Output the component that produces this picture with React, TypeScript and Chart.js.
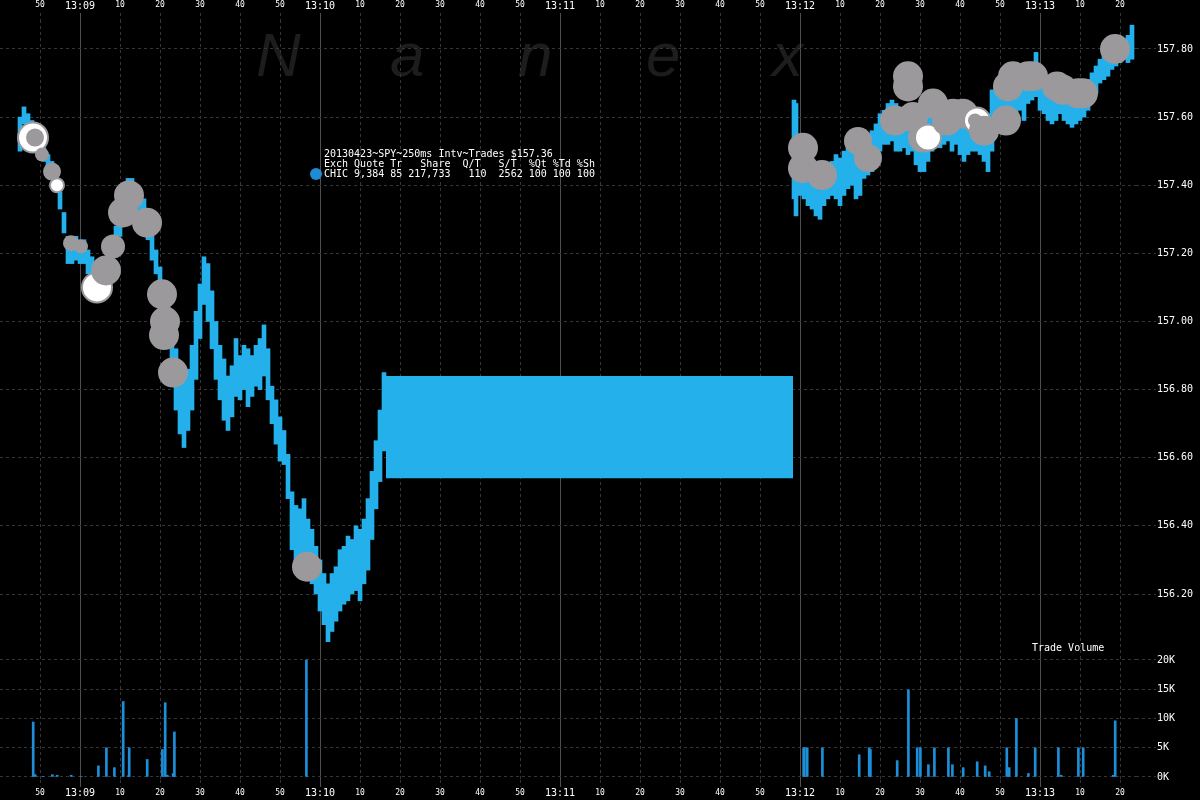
import React, { useEffect, useRef } from 'react';
import { Chart, registerables } from 'chart.js';

Chart.register(...registerables);

// ---- time axis (seconds after 13:08:00) ----
const timeTickValues = [50, 60, 70, 80, 90, 100, 110, 120, 130, 140, 150, 160, 170, 180, 190, 200, 210, 220, 230, 240, 250, 260, 270, 280, 290, 300, 310, 320];
const timeTickLabels = ['50', '13:09', '10', '20', '30', '40', '50', '13:10', '10', '20', '30', '40', '50', '13:11', '10', '20', '30', '40', '50', '13:12', '10', '20', '30', '40', '50', '13:13', '10', '20'];

// ---- price axis ----
const priceTickValues = [156.2, 156.4, 156.6, 156.8, 157.0, 157.2, 157.4, 157.6, 157.8];
const priceTickLabels = ['156.20', '156.40', '156.60', '156.80', '157.00', '157.20', '157.40', '157.60', '157.80'];

// ---- volume axis ----
const volumeTickValues = [0, 5000, 10000, 15000, 20000];
const volumeTickLabels = ['0K', '5K', '10K', '15K', '20K'];

// ---- 250ms interval price ranges (seconds after 13:08:00) ----
const priceTimes = [
  45, 46, 47, 48, 49, 50, 51, 52, 53, 54, 55, 56, 57, 58, 59, 60, 61, 62, 63, 64, 65, 66, 67, 68, 69, 70,
  71, 72, 73, 74, 75, 76, 77, 78, 79, 80, 81, 82, 83, 84, 85, 86, 87, 88, 89, 90, 91, 92, 93, 94, 95, 96,
  97, 98, 99, 100, 101, 102, 103, 104, 105, 106, 107, 108, 109, 110, 111, 112, 113, 114, 115, 116, 117,
  118, 119, 120, 121, 122, 123, 124, 125, 126, 127, 128, 129, 130, 131, 132, 133, 134, 135, 136,
  238.5, 239, 240, 241, 242, 243, 244, 245, 246, 247, 248, 249, 250, 251, 252, 253, 254, 255, 256, 257,
  258, 259, 260, 261, 262, 263, 264, 265, 266, 267, 268, 269, 270, 271, 272, 273, 274, 275, 276, 277,
  278, 279, 280, 281, 282, 283, 284, 285, 286, 287, 288, 289, 290, 291, 292, 293, 294, 295, 296, 297,
  298, 299, 300, 301, 302, 303, 304, 305, 306, 307, 308, 309, 310, 311, 312, 313, 314, 315, 316, 317,
  318, 319, 320, 321, 322, 323,
];
const priceHighs = [
  157.60, 157.63, 157.61, 157.59, 157.56, 157.53, 157.51, 157.49, 157.47, 157.43, 157.38, 157.32, 157.25,
  157.25, 157.25, 157.24, 157.24, 157.21, 157.19, 157.15, 157.16, 157.19, 157.21, 157.24, 157.28, 157.34,
  157.39, 157.42, 157.42, 157.40, 157.37, 157.36, 157.31, 157.25, 157.21, 157.16, 157.11, 157.06, 156.97,
  156.92, 156.86, 156.83, 156.86, 156.93, 157.03, 157.11, 157.19, 157.17, 157.09, 157.00, 156.93, 156.89,
  156.84, 156.87, 156.95, 156.90, 156.93, 156.92, 156.90, 156.93, 156.95, 156.99, 156.92, 156.81, 156.77,
  156.72, 156.68, 156.61, 156.50, 156.46, 156.45, 156.48, 156.42, 156.39, 156.34, 156.30, 156.26, 156.23,
  156.26, 156.28, 156.33, 156.34, 156.37, 156.36, 156.40, 156.39, 156.42, 156.48, 156.56, 156.65, 156.74,
  156.85,
  157.65, 157.64, 157.53, 157.50, 157.49, 157.46, 157.44, 157.43, 157.44, 157.46, 157.47, 157.49, 157.48,
  157.50, 157.52, 157.50, 157.52, 157.53, 157.53, 157.55, 157.56, 157.58, 157.61, 157.62, 157.64, 157.65,
  157.64, 157.62, 157.63, 157.62, 157.61, 157.61, 157.62, 157.61, 157.60, 157.61, 157.61, 157.60, 157.62,
  157.63, 157.62, 157.63, 157.61, 157.61, 157.60, 157.61, 157.61, 157.60, 157.59, 157.61, 157.68, 157.69,
  157.70, 157.70, 157.71, 157.72, 157.72, 157.71, 157.72, 157.74, 157.75, 157.79, 157.74, 157.72, 157.71,
  157.70, 157.69, 157.70, 157.68, 157.67, 157.65, 157.67, 157.68, 157.70, 157.71, 157.73, 157.75, 157.77,
  157.78, 157.80, 157.81, 157.82, 157.83, 157.83, 157.84, 157.87,
];
const priceLows = [
  157.50, 157.58, 157.56, 157.53, 157.50, 157.49, 157.47, 157.44, 157.42, 157.39, 157.33, 157.26, 157.17,
  157.17, 157.18, 157.17, 157.17, 157.14, 157.12, 157.09, 157.11, 157.12, 157.15, 157.17, 157.21, 157.25,
  157.30, 157.34, 157.33, 157.31, 157.28, 157.27, 157.24, 157.18, 157.14, 157.09, 157.00, 156.93, 156.84,
  156.74, 156.67, 156.63, 156.68, 156.74, 156.83, 156.95, 157.05, 157.00, 156.92, 156.83, 156.77, 156.71,
  156.68, 156.72, 156.78, 156.77, 156.80, 156.75, 156.78, 156.81, 156.80, 156.84, 156.77, 156.70, 156.64,
  156.59, 156.58, 156.48, 156.33, 156.28, 156.30, 156.31, 156.26, 156.23, 156.20, 156.15, 156.11, 156.06,
  156.09, 156.12, 156.15, 156.17, 156.18, 156.20, 156.21, 156.18, 156.23, 156.27, 156.36, 156.45, 156.53,
  156.62,
  157.36, 157.31, 157.37, 157.36, 157.34, 157.33, 157.31, 157.30, 157.34, 157.36, 157.37, 157.36, 157.34,
  157.37, 157.39, 157.40, 157.36, 157.37, 157.42, 157.43, 157.44, 157.47, 157.50, 157.52, 157.52, 157.53,
  157.50, 157.50, 157.51, 157.49, 157.50, 157.46, 157.44, 157.44, 157.47, 157.50, 157.52, 157.51, 157.52,
  157.53, 157.50, 157.52, 157.49, 157.47, 157.49, 157.50, 157.50, 157.49, 157.47, 157.44, 157.50, 157.56,
  157.58, 157.59, 157.60, 157.59, 157.61, 157.62, 157.59, 157.64, 157.65, 157.66, 157.62, 157.61, 157.59,
  157.58, 157.59, 157.61, 157.59, 157.58, 157.57, 157.58, 157.59, 157.60, 157.62, 157.65, 157.67, 157.70,
  157.71, 157.72, 157.74, 157.75, 157.76, 157.77, 157.76, 157.77,
];

// ---- quote band while no trades printed ----
const gapTimes = [136.5, 238.25];
const gapHigh = 156.84;
const gapLow = 156.54;

// ---- trades (bubbles) ----
const tradeTimes = [
  48.25, 48.75, 50.5, 53, 54.25, 57.75, 60.25, 64.25, 66.5, 68.25, 70.75, 72.25, 76.75, 80.5, 81, 81.25, 83.25, 116.75,
  240.75, 240.75, 245.5, 254.5, 257, 263.75, 267, 267, 268.25, 270.75, 272, 273.25, 276.75, 278.25, 280.75,
  284.25, 283.75, 286, 291.5, 292, 293.25, 297, 298.25, 304.25, 305.75, 309.5, 310.75, 318.75,
];
const tradePrices = [
  157.54, 157.54, 157.49, 157.44, 157.40, 157.23, 157.22, 157.10, 157.15, 157.22, 157.32, 157.37, 157.29, 157.08, 156.96, 157.00, 156.85, 156.28,
  157.51, 157.45, 157.43, 157.53, 157.48, 157.59, 157.72, 157.69, 157.60, 157.54, 157.54, 157.64, 157.59, 157.61, 157.61,
  157.59, 157.59, 157.56, 157.59, 157.69, 157.72, 157.72, 157.72, 157.69, 157.68, 157.67, 157.67, 157.80,
];
const tradeRadius = [
  15, 9, 7, 9, 7, 8, 7, 15, 15, 12, 15, 15, 15, 15, 15, 15, 15, 15,
  15, 15, 15, 14, 14, 15, 15, 15, 15, 15, 13, 15, 15, 15, 15,
  13, 7, 15, 15, 15, 15, 15, 15, 15, 15, 15, 15, 15,
];
const tradeHollow = [
  true, false, false, false, true, false, false, true, false, false, false, false, false, false, false, false, false, false,
  false, false, false, false, false, false, false, false, false, false, true, false, false, false, false,
  true, false, false, false, false, false, false, false, false, false, false, false, false,
];

// ---- trade volume ----
const volumeTimes = [
  48.3, 48.8, 50.7, 53.1, 54.3, 57.8, 60.3, 64.6, 66.6, 68.6, 70.8, 72.2, 72.3, 76.8, 80.6, 81.3, 81.8, 83.3, 83.6, 116.6,
  240.9, 241.1, 241.8, 245.6, 254.8, 257.3, 257.6, 264.3, 267.1, 269.3, 270.1, 272.1, 273.6, 277.1, 278.1, 280.8,
  284.3, 286.3, 287.3, 291.7, 292.3, 294.1, 297.1, 298.8, 304.6, 305.3, 309.6, 310.8, 318.3, 318.8,
];
const volumeValues = [
  9400, 400, 100, 400, 300, 300, 100, 1900, 5000, 1600, 12900, 300, 5000, 3000, 4700, 12700, 300, 600, 7700, 20000,
  5000, 5000, 5000, 5000, 3800, 5000, 4700, 2800, 14900, 5000, 5000, 2100, 5000, 5000, 2100, 1600,
  2600, 1900, 900, 5000, 1600, 10000, 600, 5000, 5000, 300, 5000, 5000, 300, 9600,
];

const legendLines = [
  '20130423~SPY~250ms Intv~Trades $157.36',
  'Exch Quote Tr   Share  Q/T   S/T  %Qt %Td %Sh',
  'CHIC 9,384 85 217,733   110  2562 100 100 100',
];

const MONO = '"DejaVu Sans Mono", monospace';
const GRID = '#363636';
const MINUTE_GRID = '#505050';
const BLUE = '#24b0ea';
const VOL_BLUE = '#1c8fd8';
const GRAY = '#9b999c';

const isMinute = (v: any) => typeof v === 'number' && v % 60 === 0;
const gridColorFor = (ctx: any) => (ctx.tick && isMinute(ctx.tick.value) ? MINUTE_GRID : GRID);
const dashFor = (ctx: any) => (ctx.tick && isMinute(ctx.tick.value) ? [] : [3, 3]);
const timeLabel = (v: any) => {
  const i = timeTickValues.indexOf(Number(v));
  return i >= 0 ? timeTickLabels[i] : '';
};

export default function App() {
  const canvasRef = useRef<HTMLCanvasElement | null>(null);

  useEffect(() => {
    const canvas = canvasRef.current;
    if (!canvas) return;

    const chart = new Chart(canvas, {
      type: 'bar',
      data: {
        datasets: [
          {
            type: 'bubble',
            data: tradeTimes.map((t, i) => ({ x: t, y: tradePrices[i], r: tradeRadius[i] })),
            xAxisID: 'x',
            yAxisID: 'yPrice',
            backgroundColor: tradeHollow.map((h) => (h ? '#ffffff' : GRAY)),
            borderColor: GRAY,
            borderWidth: tradeHollow.map((h) => (h ? 2 : 0)),
            hoverRadius: 0,
          } as any,
          {
            type: 'bar',
            data: priceTimes.map((t, i) => ({ x: t, y: [priceLows[i], priceHighs[i]] })),
            xAxisID: 'x',
            yAxisID: 'yPrice',
            backgroundColor: BLUE,
            barThickness: 4,
            grouped: false,
            borderWidth: 0,
          } as any,
          {
            type: 'line',
            data: gapTimes.map((t) => ({ x: t, y: gapHigh })),
            xAxisID: 'x',
            yAxisID: 'yPrice',
            borderColor: 'transparent',
            borderWidth: 0,
            pointRadius: 0,
            backgroundColor: BLUE,
            fill: { value: gapLow },
          } as any,
          {
            type: 'bar',
            data: volumeTimes.map((t, i) => ({ x: t, y: volumeValues[i] })),
            xAxisID: 'x',
            yAxisID: 'yVol',
            backgroundColor: VOL_BLUE,
            barThickness: 2,
            grouped: false,
            borderWidth: 0,
          } as any,
        ],
      },
      options: {
        responsive: false,
        maintainAspectRatio: false,
        animation: false,
        devicePixelRatio: 1,
        events: [],
        layout: { padding: 0, autoPadding: false },
        plugins: { legend: { display: false }, tooltip: { enabled: false } },
        scales: {
          x: {
            type: 'linear',
            position: 'top',
            min: 40,
            max: 324,
            offset: false,
            afterBuildTicks: (s: any) => {
              s.ticks = timeTickValues.map((v) => ({ value: v }));
            },
            afterFit: (s: any) => {
              s.height = 20;
            },
            ticks: {
              autoSkip: false,
              maxRotation: 0,
              padding: 1,
              color: '#ffffff',
              font: (ctx: any) =>
                ctx.tick && isMinute(ctx.tick.value)
                  ? { family: MONO, size: 10, lineHeight: '12px' }
                  : { family: MONO, size: 8, lineHeight: '14px' },
              callback: (v: any) => timeLabel(v),
            },
            grid: {
              offset: false,
              drawOnChartArea: true,
              tickLength: 7,
              lineWidth: 1,
              color: gridColorFor,
              tickColor: gridColorFor,
              tickBorderDash: dashFor,
            },
            border: { display: false, dash: dashFor },
          } as any,
          x2: {
            type: 'linear',
            position: 'bottom',
            min: 40,
            max: 324,
            offset: false,
            afterBuildTicks: (s: any) => {
              s.ticks = timeTickValues.map((v) => ({ value: v }));
            },
            afterFit: (s: any) => {
              s.height = 20;
            },
            ticks: {
              autoSkip: false,
              maxRotation: 0,
              padding: 1,
              color: '#ffffff',
              font: (ctx: any) =>
                ctx.tick && isMinute(ctx.tick.value)
                  ? { family: MONO, size: 10, lineHeight: '10px' }
                  : { family: MONO, size: 8, lineHeight: '10px' },
              callback: (v: any) => timeLabel(v),
            },
            grid: {
              offset: false,
              drawOnChartArea: false,
              tickLength: 7,
              color: gridColorFor,
              tickColor: gridColorFor,
              tickBorderDash: dashFor,
            },
            border: { display: false, dash: dashFor },
          } as any,
          yPrice: {
            type: 'linear',
            position: 'right',
            stack: 'right',
            stackWeight: 630,
            min: 156.0356,
            max: 157.8851,
            afterBuildTicks: (s: any) => {
              s.ticks = priceTickValues.map((v) => ({ value: v }));
            },
            afterFit: (s: any) => {
              s.width = 64;
            },
            ticks: {
              color: '#ffffff',
              padding: 1,
              font: { family: MONO, size: 10 },
              callback: (v: any) => {
                const i = priceTickValues.indexOf(Number(v));
                return i >= 0 ? priceTickLabels[i] : '';
              },
            },
            grid: { color: GRID, tickColor: GRID, tickLength: 20, tickBorderDash: [3, 3] },
            border: { display: false, dash: [3, 3] },
          } as any,
          yVol: {
            type: 'linear',
            position: 'right',
            stack: 'right',
            stackWeight: 130,
            min: -513,
            max: 21709,
            afterBuildTicks: (s: any) => {
              s.ticks = volumeTickValues.map((v) => ({ value: v }));
            },
            afterFit: (s: any) => {
              s.width = 64;
            },
            ticks: {
              color: '#ffffff',
              padding: 1,
              font: { family: MONO, size: 10 },
              callback: (v: any) => {
                const i = volumeTickValues.indexOf(Number(v));
                return i >= 0 ? volumeTickLabels[i] : '';
              },
            },
            grid: { color: GRID, tickColor: GRID, tickLength: 20, tickBorderDash: [3, 3] },
            border: { display: false, dash: [3, 3] },
          } as any,
        },
      } as any,
    });

    return () => chart.destroy();
  }, []);

  const wmStyle = (left: number): React.CSSProperties => ({
    position: 'absolute',
    left,
    top: 25,
    font: 'italic 62px "Liberation Sans", sans-serif',
    lineHeight: '60px',
    color: '#1d1d1d',
  });

  return (
    <div
      style={{
        position: 'fixed',
        left: 0,
        top: 0,
        width: 1200,
        height: 800,
        background: '#000000',
        overflow: 'hidden',
      }}
    >
      <span style={wmStyle(256)}>N</span>
      <span style={wmStyle(390)}>a</span>
      <span style={wmStyle(518)}>n</span>
      <span style={wmStyle(646)}>e</span>
      <span style={wmStyle(772)}>x</span>
      <canvas
        ref={canvasRef}
        width={1200}
        height={800}
        style={{ position: 'absolute', left: 0, top: 0, width: 1200, height: 800 }}
      />
      <div
        style={{
          position: 'absolute',
          left: 310,
          top: 168,
          width: 12,
          height: 12,
          borderRadius: '50%',
          background: '#1e8cd2',
        }}
      />
      <div
        style={{
          position: 'absolute',
          left: 324,
          top: 149,
          font: `10px ${MONO}`,
          lineHeight: '10px',
          color: '#ffffff',
          whiteSpace: 'pre',
        }}
      >
        {legendLines.join('\n')}
      </div>
      <div
        style={{
          position: 'absolute',
          left: 1032,
          top: 643,
          font: `10px ${MONO}`,
          lineHeight: '10px',
          color: '#ffffff',
          whiteSpace: 'pre',
        }}
      >
        Trade Volume
      </div>
    </div>
  );
}
